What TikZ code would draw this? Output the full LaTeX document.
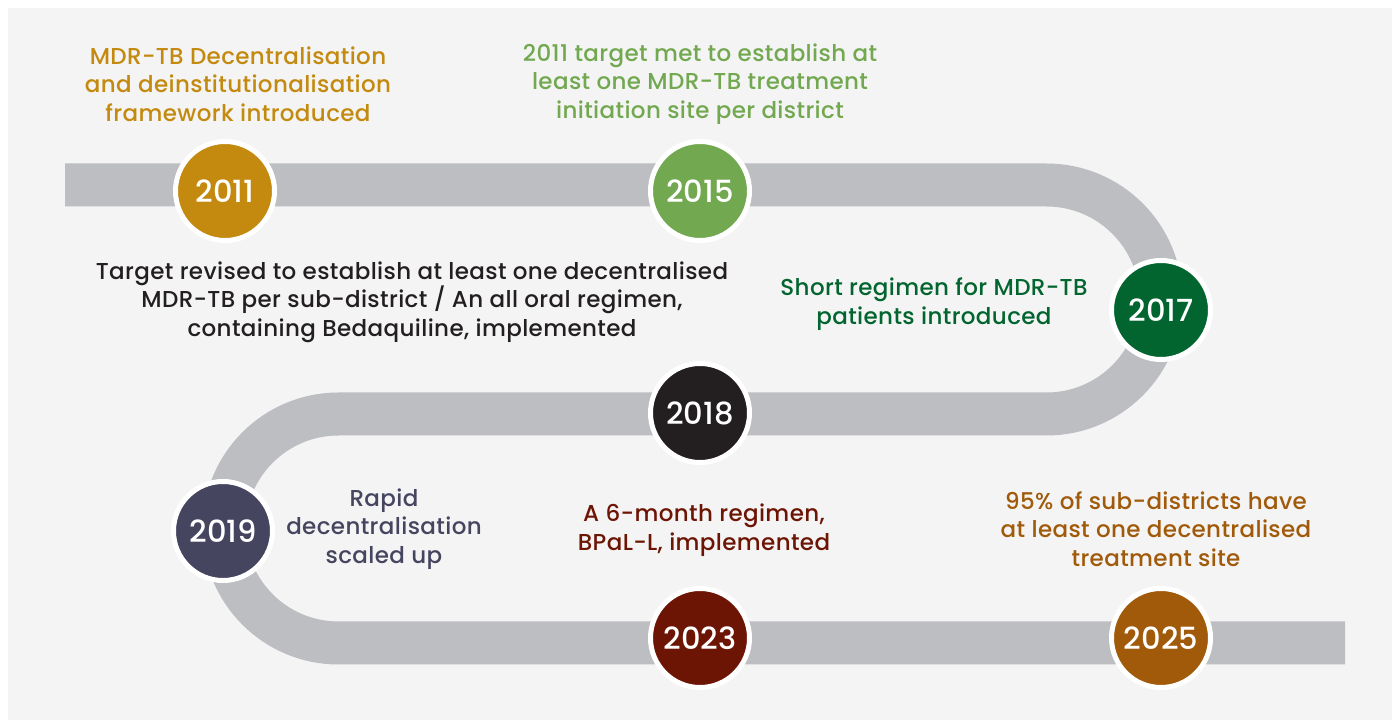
\documentclass[tikz,border=0pt]{standalone}
\usepackage{fontspec}
\setmainfont{Poppins Medium}[LetterSpace=1.6]
\newfontfamily\yearfont{Poppins Medium}
\definecolor{panel}{HTML}{F4F4F4}
\definecolor{track}{HTML}{BDBEC1}
\definecolor{cGold}{HTML}{C38A0F}
\definecolor{cLeaf}{HTML}{72A84F}
\definecolor{cForest}{HTML}{02652F}
\definecolor{cInk}{HTML}{231F20}
\definecolor{cSlate}{HTML}{454560}
\definecolor{cMaroon}{HTML}{6D1505}
\definecolor{cRust}{HTML}{A05A0A}
\tikzset{
  year/.style={circle, minimum size=99pt, inner sep=0pt, draw=white, line width=5pt,
    text=white, font=\yearfont\fontsize{30.5}{30.5}\selectfont},
  note/.style={align=center, inner sep=0pt, font=\fontsize{23}{28.7}\selectfont},
  road/.style={draw=track, line width=43pt, line cap=butt, line join=round}
}
\begin{document}
\begin{tikzpicture}[x=1pt,y=1pt]
  \useasboundingbox (0,0) rectangle (1392,720);
  \fill[white] (0,0) rectangle (1392,720);
  \fill[panel] (8,0) rectangle (1392,712);

  % winding road
  \coordinate (roadstart) at (65,535);
  \coordinate (roadend) at (1345,77);
  \draw[road] (roadstart) -- (1046.5,535)
    arc[start angle=90, end angle=-90, radius=114.5]
    -- (338.5,306)
    arc[start angle=90, end angle=270, radius=114.5]
    -- (roadend);

  % milestones
  \node[year, fill=cGold]   (y2011) at (225,529) {2011};
  \node[year, fill=cLeaf]   (y2015) at (700,529) {2015};
  \node[year, fill=cForest] (y2017) at (1161,410) {2017};
  \node[year, fill=cInk]    (y2018) at (700,307) {2018};
  \node[year, fill=cSlate]  (y2019) at (223,189) {2019};
  \node[year, fill=cMaroon] (y2023) at (700,82) {2023};
  \node[year, fill=cRust]   (y2025) at (1161,82) {2025};

  % descriptions
  \node[note, text=cGold] (t2011) at (238,636)
    {MDR-TB Decentralisation\\and deinstitutionalisation\\framework introduced};
  \node[note, text=cLeaf] (t2015) at (700,636)
    {2011 target met to establish at\\least one MDR-TB treatment\\initiation site per district};
  \node[note, text=cInk] (t2018) at (412,418)
    {Target revised to establish at least one decentralised\\MDR-TB per sub-district / An all oral regimen,\\containing Bedaquiline, implemented};
  \node[note, text=cForest] (t2017) at (934,416)
    {Short regimen for MDR-TB\\patients introduced};
  \node[note, text=cSlate] (t2019) at (384,191)
    {Rapid\\decentralisation\\scaled up};
  \node[note, text=cMaroon] (t2023) at (704,190)
    {A 6-month regimen,\\BPaL-L, implemented};
  \node[note, text=cRust] (t2025) at (1156,191)
    {95\% of sub-districts have\\at least one decentralised\\treatment site};
\end{tikzpicture}
\end{document}
